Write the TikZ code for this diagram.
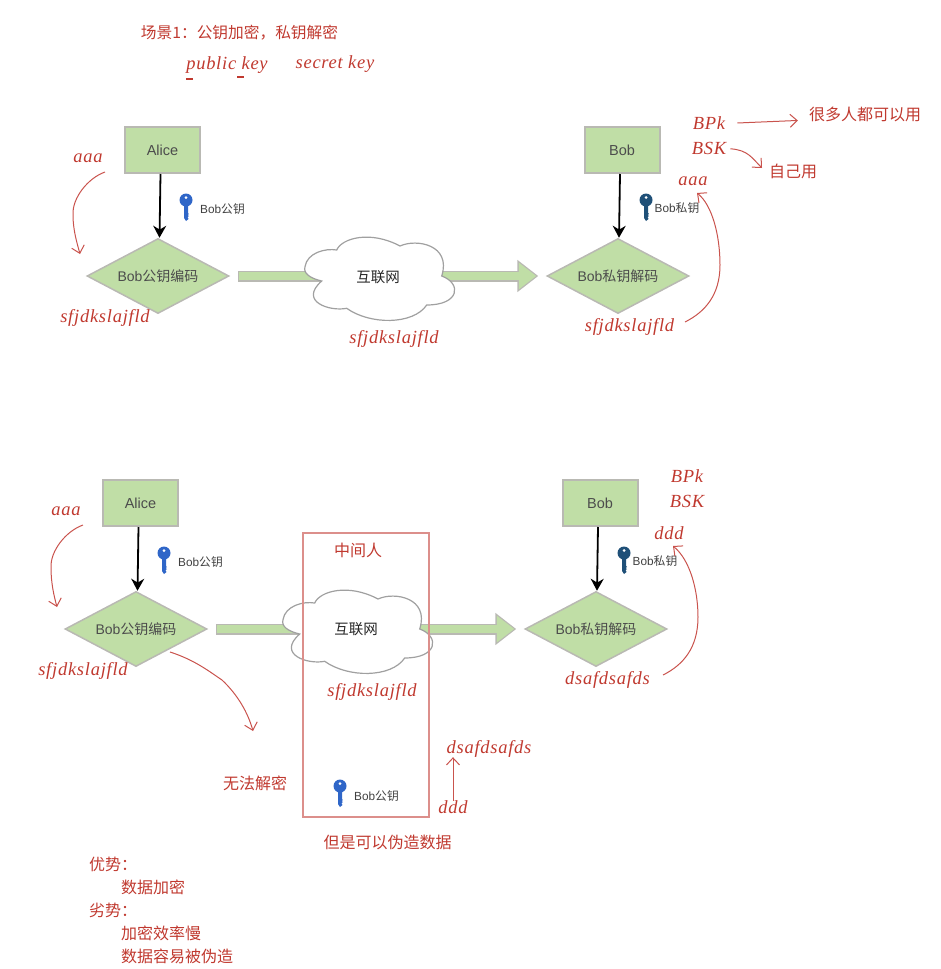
\documentclass[tikz,border=0pt]{standalone}
\usepackage{fontspec}
\setmainfont{Liberation Sans}
\newfontfamily\cjk{Noto Sans CJK SC}
\newfontfamily\handfont[LetterSpace=4]{Liberation Serif}
\usetikzlibrary{arrows.meta,shapes.geometric}
\definecolor{inkred}{HTML}{C0392F}
\definecolor{curvered}{HTML}{C9534D}
\definecolor{framered}{HTML}{DC8F8B}
\definecolor{boxgreen}{HTML}{C0DEA6}
\definecolor{boxgray}{HTML}{B9B9B3}
\definecolor{cloudgray}{HTML}{A0A0A0}
\definecolor{keyblue}{HTML}{2F66C8}
\definecolor{keynavy}{HTML}{1F5078}
\tikzset{
	personbox/.style={draw=boxgray,line width=2pt,fill=boxgreen,minimum width=75pt,minimum height=46pt,
		inner sep=0pt,text=black!70,font=\fontsize{14.5}{17}\selectfont},
	codebox/.style={diamond,draw=boxgray,line width=1.5pt,fill=boxgreen,aspect=1.9,minimum width=142pt,minimum height=75pt,
		inner sep=0pt,text=black!70,font=\fontsize{14}{17}\selectfont},
	nettext/.style={inner sep=0pt,text=black!85,font=\cjk\fontsize{14.5}{17}\selectfont},
	keytext/.style={inner sep=0pt,text=black!75,font=\fontsize{11.8}{14}\selectfont},
	hand/.style={inner sep=0pt,yshift=-1.5pt,text=inkred,font=\handfont\itshape\fontsize{18.5}{20}\selectfont},
	note/.style={inner sep=0pt,text=inkred,font=\cjk\fontsize{16}{18}\selectfont},
	blackflow/.style={draw=black,line width=1.8pt,-{Stealth[length=12pt,width=13pt]}},
	flowedge/.style={draw=boxgray,line width=11pt,-{Triangle[length=21pt,width=31pt]},shorten <=8pt,shorten >=8pt},
	flowfill/.style={draw=boxgreen,line width=8.5pt,-{Triangle[length=17.5pt,width=25.5pt]},shorten <=9.2pt,shorten >=10pt},
	redcurve/.style={draw=curvered,line width=1pt,-{Straight Barb[length=7pt,width=13pt]}},
	pics/keyicon/.style={code={
		\fill[#1] (0,-7) circle[radius=6.5pt];
		\fill[#1] (-2,-3) -- (-2,11) -- (0,14) -- (2.5,12) -- (1.5,10) -- (3,9) -- (1.5,8) -- (3,7) -- (2,6) -- (2,-3) -- cycle;
		\fill[white] (0,-9.5) circle[radius=1.5pt];
	}},
	pics/cloudline/.style={code={
		\draw[cloudgray,line width=1.2pt,fill=white] (-76,-11.3)
			.. controls (-74,-25) and (-56,-30) .. (-44.3,-28)
			.. controls (-39.3,-39.7) and (-11,-48) .. (19,-32)
			.. controls (35.7,-39.7) and (70.7,-33) .. (60.7,-2)
			.. controls (80.7,5.3) and (79,27) .. (45.7,27)
			.. controls (32.3,47) and (-11,47) .. (-34.3,30.3)
			.. controls (-51,33.7) and (-82.7,23.7) .. (-59.3,3)
			.. controls (-71,0.3) and (-78,-4.7) .. cycle;
	}},
}
\begin{document}
\begin{tikzpicture}[x=1pt,y=-1pt]
	\useasboundingbox (0,0) rectangle (940,969);
	\node[note,font=\cjk\fontsize{15.7}{18}\selectfont] (title) at (239.5,33) {场景1：公钥加密，私钥解密};
	\node[hand] (pubkey) at (227,64) {public key};
	\node[hand] (seckey) at (335,63) {secret key};
	\draw[inkred,line width=1.3pt] (186,79) -- (193,79) (237,77) -- (244,77);

	% upper flow
	\node[personbox] (alice1) at (162.5,150) {Alice};
	\node[personbox] (bob1) at (622,150) {Bob};
	\node[codebox] (enc1) at (158,276) {Bob{\cjk 公钥编码}};
	\node[codebox] (dec1) at (618,276) {Bob{\cjk 私钥解码}};
	\draw[blackflow] ([xshift=-2pt]alice1.south) -- ([xshift=1.5pt]enc1.north);
	\draw[blackflow] ([xshift=-2pt]bob1.south) -- ([xshift=1pt]dec1.north);
	\draw[flowedge] (enc1.east) -- (dec1.west);
	\draw[flowfill] (enc1.east) -- (dec1.west);
	\pic at (381,278) {cloudline};
	\node[nettext] (net1) at (378,277) {互联网};
	\pic at (186,207) {keyicon=keyblue};
	\node[keytext] (pubtext1) at (222.5,209) {Bob{\cjk 公钥}};
	\pic at (646,207) {keyicon=keynavy};
	\node[keytext] (pritext1) at (677,208) {Bob{\cjk 私钥}};

	\node[hand] (aaa1) at (88,157) {aaa};
	\node[hand] (cipher1) at (105,316) {sfjdkslajfld};
	\node[hand] (cipher2) at (394,337) {sfjdkslajfld};
	\node[hand] (cipher3) at (629.5,325) {sfjdkslajfld};
	\node[hand] (aaa2) at (693,180) {aaa};
	\node[hand] (bpk1) at (709,122) {BPk};
	\node[hand] (bsk1) at (709,147) {BSK};
	\node[note] (many) at (865,114) {很多人都可以用};
	\node[note] (self) at (793,171) {自己用};
	\coordinate (c1) at (105,172);
	\coordinate (c2) at (80,254);
	\coordinate (c3) at (685,322);
	\coordinate (c4) at (697,193);
	\draw[redcurve] (c1) .. controls (88,178) and (72,198) .. (73,215) .. controls (73,230) and (77,243) .. (c2);
	\draw[redcurve] (c3) .. controls (705,312) and (720,295) .. (720,265) .. controls (720,235) and (712,205) .. (c4);
	\draw[redcurve,shorten <=12pt,shorten >=11pt] (bpk1.east) -- ([yshift=-6pt]many.west);
	\draw[redcurve,shorten <=4pt] (bsk1.east) .. controls (748,150) and (752,158) .. (762,168);

	% lower flow
	\node[personbox] (alice2) at (140.5,503) {Alice};
	\node[personbox] (bob2) at (600,503) {Bob};
	\node[codebox] (enc2) at (136,629) {Bob{\cjk 公钥编码}};
	\node[codebox] (dec2) at (596,629) {Bob{\cjk 私钥解码}};
	\draw[blackflow] ([xshift=-2pt]alice2.south) -- ([xshift=1.5pt]enc2.north);
	\draw[blackflow] ([xshift=-2pt]bob2.south) -- ([xshift=1pt]dec2.north);
	\draw[flowedge] (enc2.east) -- (dec2.west);
	\draw[flowfill] (enc2.east) -- (dec2.west);
	\pic at (359,631) {cloudline};
	\node[nettext] (net2) at (356,629) {互联网};
	\pic at (164,560) {keyicon=keyblue};
	\node[keytext] (pubtext2) at (200.5,562) {Bob{\cjk 公钥}};
	\pic at (624,560) {keyicon=keynavy};
	\node[keytext] (pritext2) at (655,561) {Bob{\cjk 私钥}};

	\draw[framered,line width=1.2pt] (303,533) rectangle (429,817);
	\node[note] (midtext) at (358,550) {中间人};
	\pic at (340,793) {keyicon=keyblue};
	\node[keytext] (pubtext3) at (376.5,796) {Bob{\cjk 公钥}};
	\node[note] (nodec) at (255,783) {无法解密};
	\node[note] (forge) at (387.5,842) {但是可以伪造数据};

	\node[hand] (aaa3) at (66,510) {aaa};
	\node[hand] (cipher4) at (83,669) {sfjdkslajfld};
	\node[hand] (cipher5) at (372,690) {sfjdkslajfld};
	\node[hand] (fake1) at (607.5,678) {dsafdsafds};
	\node[hand] (fake2) at (489,747) {dsafdsafds};
	\node[hand] (ddd1) at (669,532) {ddd};
	\node[hand] (ddd2) at (453,806) {ddd};
	\node[hand] (bpk2) at (687,475) {BPk};
	\node[hand] (bsk2) at (687,500) {BSK};
	\coordinate (c5) at (83,525);
	\coordinate (c6) at (57,607);
	\coordinate (c7) at (170,652);
	\coordinate (c8) at (253,731);
	\coordinate (c9) at (663,675);
	\coordinate (c10) at (673,546);
	\draw[redcurve] (c5) .. controls (66,531) and (50,551) .. (51,568) .. controls (51,583) and (54,596) .. (c6);
	\draw[redcurve] (c7) .. controls (195,660) and (210,672) .. (222,680) .. controls (238,695) and (248,713) .. (c8);
	\draw[redcurve] (c9) .. controls (683,665) and (698,648) .. (698,617) .. controls (698,590) and (690,560) .. (c10);
	\draw[redcurve] (ddd2.north) -- (fake2.south -| ddd2.north);

	% notes at the bottom
	\node[note,anchor=west] (plus) at (89,864) {优势：};
	\node[note,anchor=west] (plus1) at (121,887) {数据加密};
	\node[note,anchor=west] (minus) at (89,910) {劣势：};
	\node[note,anchor=west] (minus1) at (121,933) {加密效率慢};
	\node[note,anchor=west] (minus2) at (121,956) {数据容易被伪造};
\end{tikzpicture}
\end{document}
